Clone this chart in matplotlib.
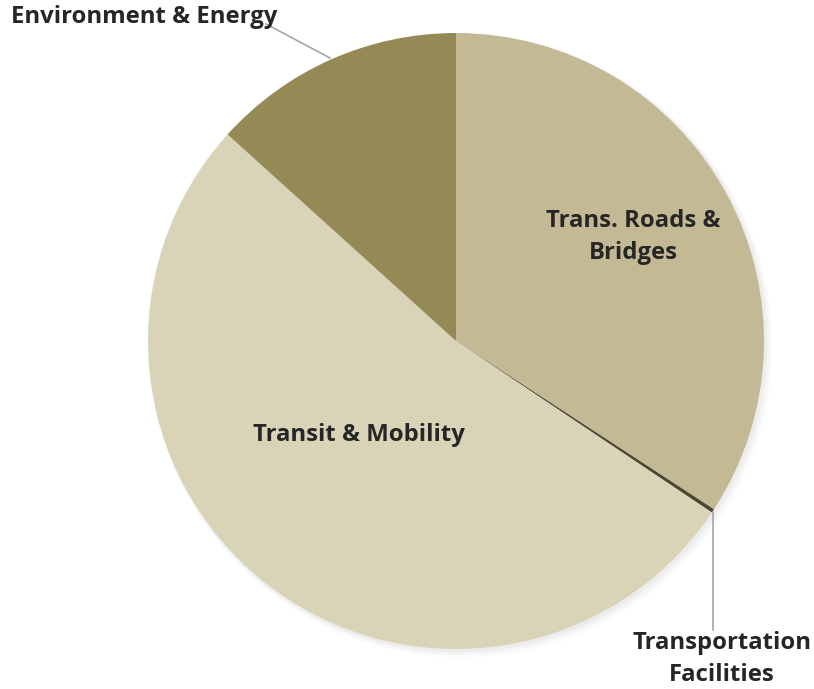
import matplotlib.pyplot as plt
from matplotlib.patches import Circle

plt.rcParams['font.family'] = ['Open Sans', 'DejaVu Sans']

# Funding share by category (%), clockwise from 12 o'clock
categorias = ['Trans. Roads &\nBridges', 'Transportation\nFacilities',
              'Transit & Mobility', 'Environment & Energy']
valores = [34.2, 0.2, 52.3, 13.3]
cores = ['#c3b994', '#4b4630', '#d9d3b8', '#958a55']

fig = plt.figure(figsize=(8.14, 6.89), dpi=100)
ax = fig.add_axes([0, 0, 1, 1])

cx, cy, raio = 456, 348, 308

# sombra suave
for i, a in enumerate([0.05, 0.04, 0.03, 0.02]):
    ax.add_patch(Circle((cx + 2 + i, cy - 2 - i), raio + 1 + i, color='#888888',
                        alpha=a, lw=0, zorder=0))

ax.pie(valores, colors=cores, startangle=90, counterclock=False,
       center=(cx, cy), radius=raio, frame=True,
       wedgeprops=dict(linewidth=0))
ax.set_xlim(0, 814)
ax.set_ylim(0, 689)
ax.set_aspect('equal')
ax.axis('off')

fonte = dict(fontsize=17.2, fontweight='bold', color='#262626')
ax.text(633, 689 - 237, categorias[0], ha='center', va='center',
        linespacing=1.42, **fonte)
ax.text(359, 689 - 435, categorias[2], ha='center', va='center', **fonte)
ax.text(11, 689 - 17, categorias[3], ha='left', va='center', **fonte)
ax.text(722, 689 - 659, categorias[1], ha='center', va='center',
        linespacing=1.42, **fonte)

# linhas de chamada
ax.plot([330, 266], [689 - 58, 689 - 24], color='#a6a6a6', lw=1.2)
ax.plot([713, 713], [689 - 512, 689 - 630], color='#a6a6a6', lw=1.2)

fig.savefig('out.png', dpi=100, facecolor='white')
